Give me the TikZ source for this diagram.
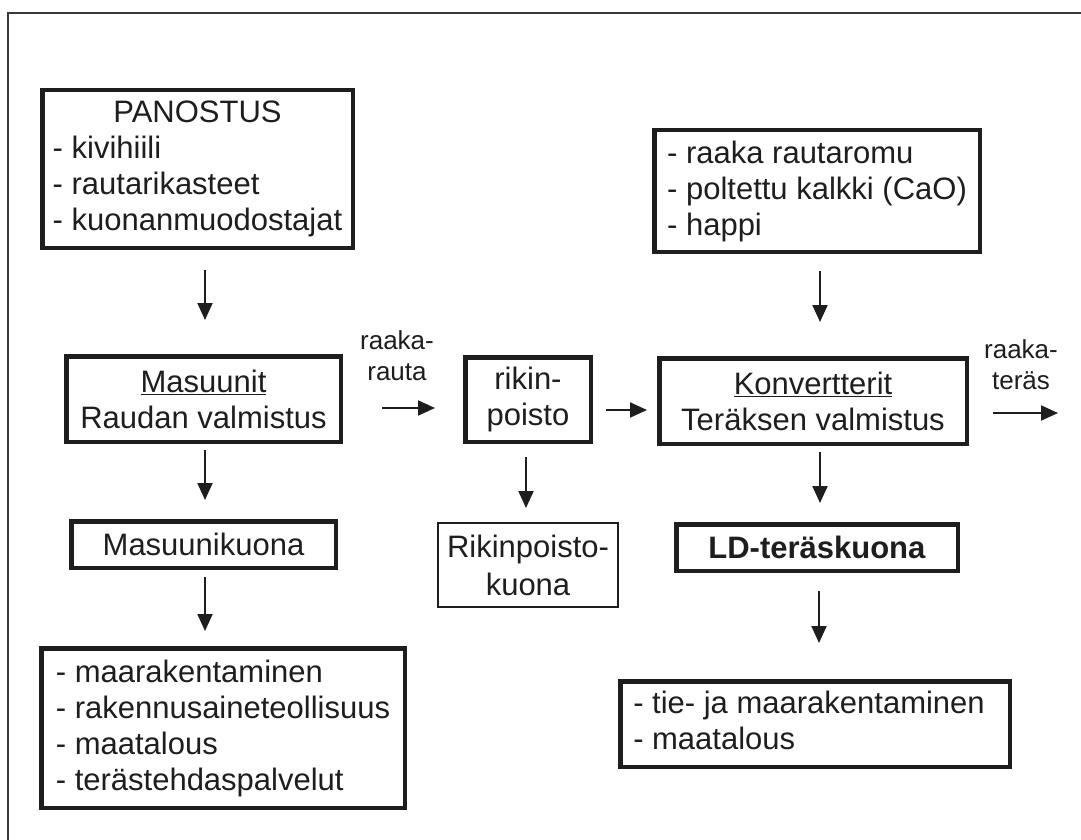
\documentclass[tikz,border=0pt]{standalone}
\usepackage{fontspec}
\setmainfont{Liberation Sans}
\usetikzlibrary{arrows.meta}
\definecolor{ink}{HTML}{1E1E1E}
\definecolor{framec}{HTML}{3A3A3A}
\begin{document}
\begin{tikzpicture}[x=1pt,y=-1pt,
  box/.style={draw=ink, line width=4.5pt, inner sep=0pt, outer sep=0pt,
    font=\fontsize{31}{36}\selectfont, text=ink},
  thinbox/.style={draw=ink, line width=2pt, inner sep=0pt, outer sep=0pt,
    font=\fontsize{31}{38}\selectfont, text=ink},
  arr/.style={draw=ink, line width=2pt, -{Triangle[length=17pt,width=15pt]}},
  lbl/.style={font=\fontsize{26}{31}\selectfont, align=center, text=ink, inner sep=0pt},
  frameline/.style={draw=framec, line width=2pt}
]
\useasboundingbox (0,0) rectangle (1081,840);
\fill[white] (0,0) rectangle (1081,840);
\draw[frameline] (1081,13) -- (8,13) -- (8,840);

% boxes
\node[box, minimum width=310.5, minimum height=157.5] (pan) at (197.5,169)
  {\begin{tabular}{@{}l@{}}\multicolumn{1}{@{}c@{}}{PANOSTUS}\\- kivihiili\\- rautarikasteet\\- kuonanmuodostajat\end{tabular}};
\node[box, minimum width=325.5, minimum height=121.5, align=left] (inp) at (817,191)
  {- raaka rautaromu\\- poltettu kalkki (CaO)\\- happi};
\node[box, minimum width=274.5, minimum height=85.5, align=center] (mas) at (203.5,399)
  {\underline{Masuunit}\\Raudan valmistus};
\node[box, minimum width=125.5, minimum height=84.5, align=center] (rik) at (528,399.5)
  {rikin-\\poisto};
\node[box, minimum width=307.5, minimum height=85.5, align=center] (kon) at (813,401)
  {\underline{Konvertterit}\\Teräksen valmistus};
\node[box, minimum width=264.5, minimum height=46.5] (mk) at (203.5,544.5)
  {Masuunikuona};
\node[thinbox, minimum width=180, minimum height=84, align=center] (rk) at (528,565)
  {Rikinpoisto-\\kuona};
\node[box, minimum width=281.5, minimum height=46.5] (ld) at (817,547.5)
  {\textbf{LD-teräskuona}};
\node[box, minimum width=363.5, minimum height=159.5, align=left] (bl) at (223,728)
  {- maarakentaminen\\- rakennusaineteollisuus\\- maatalous\\- terästehdaspalvelut};
\node[box, minimum width=389.5, minimum height=85.5] (br) at (815,724)
  {\begin{tabular}{@{}l@{}}- tie- ja maarakentaminen\\- maatalous\end{tabular}\hspace*{12pt}};

% labels
\node[lbl] (lr1) at (397,356) {raaka-\\rauta};
\node[lbl] (lr2) at (1021,365) {raaka-\\teräs};
\coordinate (out) at (1058,413);

% arrows
\draw[arr, shorten <=22.25pt, shorten >=36.25pt] ([xshift=7.5pt]pan.south) -- ([xshift=1.5pt]mas.north);
\draw[arr, shorten <=8.25pt, shorten >=21.25pt] ([xshift=1.5pt]mas.south) -- ([xshift=1.5pt]mk.north);
\draw[arr, shorten <=9.25pt, shorten >=17.25pt] ([xshift=1.5pt]mk.south) -- ([xshift=-18pt]bl.north);
\draw[arr, shorten <=41.25pt, shorten >=30.25pt] ([yshift=-9pt]mas.east) -- ([yshift=-8.5pt]rik.west);
\draw[arr, shorten <=15.25pt, shorten >=15pt] ([xshift=-2pt]rik.south) -- ([xshift=-2pt]rk.north);
\draw[arr, shorten <=15.25pt, shorten >=12.25pt] ([yshift=-10.5pt]rik.east) -- ([yshift=-9pt]kon.west);
\draw[arr, shorten <=19.25pt, shorten >=36.25pt] ([xshift=3pt]inp.south) -- ([xshift=7pt]kon.north);
\draw[arr, shorten <=8.25pt, shorten >=21.25pt] ([xshift=7pt]kon.south) -- ([xshift=3pt]ld.north);
\draw[arr, shorten <=20.25pt, shorten >=38.25pt] ([xshift=2pt]ld.south) -- ([xshift=4pt]br.north);
\draw[arr, shorten <=26.25pt] ([yshift=-12pt]kon.east) -- (out);
\end{tikzpicture}
\end{document}
